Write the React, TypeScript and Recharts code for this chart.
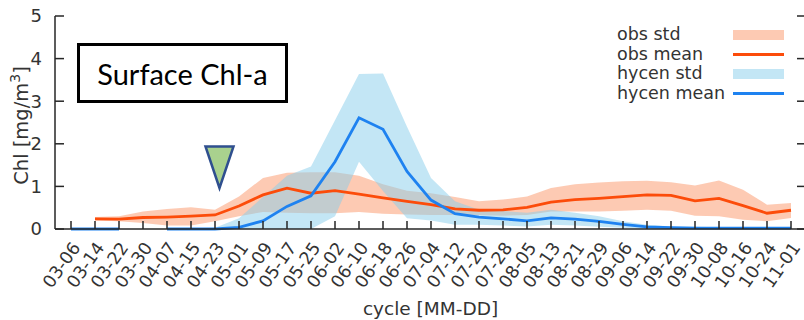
import React from "react";
import { ComposedChart, Area, Line, XAxis, YAxis, Legend } from "recharts";

// cycle dates (MM-DD)
const DATES = [
  "03-06", "03-14", "03-22", "03-30", "04-07", "04-15", "04-23", "05-01",
  "05-09", "05-17", "05-25", "06-02", "06-10", "06-18", "06-26", "07-04",
  "07-12", "07-20", "07-28", "08-05", "08-13", "08-21", "08-29", "09-06",
  "09-14", "09-22", "09-30", "10-08", "10-16", "10-24", "11-01",
];

// observations: mean and std envelope (low / high)
const OBS_MEAN = [
  null, 0.24, 0.23, 0.27, 0.28, 0.3, 0.33, 0.54, 0.8, 0.96, 0.84, 0.9, 0.82,
  0.73, 0.65, 0.57, 0.47, 0.44, 0.45, 0.51, 0.63, 0.69, 0.72, 0.76, 0.8, 0.79,
  0.66, 0.72, 0.55, 0.37, 0.44,
];
const OBS_LOW = [
  null, 0.2, 0.18, 0.14, 0.08, 0.08, 0.18, 0.3, 0.4, 0.38, 0.37, 0.37, 0.4,
  0.36, 0.34, 0.33, 0.33, 0.33, 0.31, 0.33, 0.41, 0.41, 0.41, 0.43, 0.45, 0.43,
  0.31, 0.3, 0.22, 0.18, 0.26,
];
const OBS_HIGH = [
  null, 0.28, 0.3, 0.41, 0.47, 0.51, 0.45, 0.76, 1.2, 1.32, 1.33, 1.33, 1.25,
  1.05, 0.9, 0.84, 0.75, 0.65, 0.69, 0.76, 0.96, 1.05, 1.09, 1.12, 1.13, 1.1,
  1.02, 1.14, 0.92, 0.57, 0.61,
];

// hycen model: mean and std envelope
const HYCEN_MEAN = [
  0, 0, 0, null, 0, 0, 0, 0.04, 0.19, 0.53, 0.78, 1.58, 2.61, 2.34, 1.35, 0.68,
  0.36, 0.28, 0.24, 0.19, 0.26, 0.23, 0.18, 0.11, 0.05, 0.03, 0.02, 0.02, 0.02,
  0.02, 0.02,
];
const HYCEN_LOW = [
  0, 0, 0, null, 0, 0, 0, 0, 0, 0, 0, 0.3, 1.58, 0.89, 0.25, 0.2, 0.1, 0.1,
  0.08, 0.06, 0.1, 0.08, 0.05, 0.03, 0, 0, 0, 0, 0, 0, 0,
];
const HYCEN_HIGH = [
  0.02, 0.02, 0.02, null, 0.02, 0.02, 0.03, 0.25, 0.75, 1.25, 1.47, 2.55, 3.64,
  3.65, 2.4, 1.2, 0.65, 0.45, 0.42, 0.38, 0.45, 0.38, 0.3, 0.18, 0.1, 0.06,
  0.05, 0.04, 0.04, 0.04, 0.04,
];

const Y_TICKS = [0, 1, 2, 3, 4, 5];
const LEGEND_ORDER = ["obs std", "obs mean", "hycen std", "hycen mean"];

const data = DATES.map((date, i) => ({
  date,
  obsMean: OBS_MEAN[i],
  obsStd: OBS_LOW[i] == null ? null : [OBS_LOW[i], OBS_HIGH[i]],
  hyMean: HYCEN_MEAN[i],
  hyStd: HYCEN_LOW[i] == null ? null : [HYCEN_LOW[i], HYCEN_HIGH[i]],
}));

const INK = "#262626";
const TXT = "#333";
const FONT = "'DejaVu Sans', sans-serif";

const STYLE: Record<string, { color: string; opacity: number }> = {
  obsStd: { color: "#fa7a40", opacity: 0.4 },
  obsMean: { color: "#fc4c0a", opacity: 1 },
  hyStd: { color: "#87ceeb", opacity: 0.5 },
  hyMean: { color: "#1e82f0", opacity: 1 },
};

function BottomTick({ x, y, payload }: any) {
  return (
    <g transform={`translate(${x},${y})`}>
      <line x1={0} y1={0} x2={0} y2={-8} stroke={INK} strokeWidth={1.5} />
      <text
        transform="translate(5,15) rotate(-55)"
        textAnchor="end"
        dy="0.35em"
        fontSize={17.5}
        fill={TXT}
        fontFamily={FONT}
      >
        {payload.value}
      </text>
    </g>
  );
}

function TopTick({ x, y }: any) {
  return <line x1={x} y1={y} x2={x} y2={y + 9} stroke={INK} strokeWidth={1.5} />;
}

function LeftTick({ x, y, payload }: any) {
  return (
    <g transform={`translate(${x},${y})`}>
      <line x1={0} y1={0} x2={9} y2={0} stroke={INK} strokeWidth={1.5} />
      <text x={-13} dy="0.35em" textAnchor="end" fontSize={18} fill={TXT} fontFamily={FONT}>
        {payload.value}
      </text>
    </g>
  );
}

function RightTick({ x, y }: any) {
  return <line x1={x} y1={y} x2={x - 9} y2={y} stroke={INK} strokeWidth={1.5} />;
}

function YLabel(props: any) {
  const vb = props.viewBox || { x: 0, y: 16, width: 55, height: 213 };
  const cx = vb.x + 28;
  const cy = vb.y + vb.height / 2 + 3;
  return (
    <text
      x={cx}
      y={cy}
      transform={`rotate(-90, ${cx}, ${cy})`}
      textAnchor="middle"
      fontSize={19.5}
      fill={TXT}
      fontFamily={FONT}
    >
      <tspan>Chl [mg/m</tspan>
      <tspan dy={-8} fontSize={14}>3</tspan>
      <tspan dy={8}>]</tspan>
    </text>
  );
}

function LegendBox({ payload }: any) {
  const items = (payload || [])
    .filter((p: any) => p.type !== "none")
    .slice()
    .sort((a: any, b: any) => LEGEND_ORDER.indexOf(a.value) - LEGEND_ORDER.indexOf(b.value));
  return (
    <div style={{ fontFamily: FONT, fontSize: 17.5, color: TXT }}>
      {items.map((p: any) => {
        const st = STYLE[p.dataKey] || { color: p.color, opacity: 1 };
        const band = p.type === "rect";
        return (
          <div key={p.value} style={{ display: "flex", alignItems: "center", height: 19.5 }}>
            <span style={{ width: 116, whiteSpace: "nowrap", lineHeight: "19.5px" }}>{p.value}</span>
            <span
              style={{
                display: "inline-block",
                width: 51,
                height: band ? 10 : 3,
                background: st.color,
                opacity: st.opacity,
              }}
            />
          </div>
        );
      })}
    </div>
  );
}

export default function App() {
  return (
    <div
      style={{
        position: "absolute",
        left: 0,
        top: 0,
        width: 804,
        height: 320,
        overflow: "hidden",
        background: "#fff",
      }}
    >
      <ComposedChart
        width={820}
        height={320}
        data={data}
        margin={{ top: 16, right: 0, bottom: 0, left: 0 }}
      >
        <XAxis
          dataKey="date"
          scale="point"
          padding={{ left: 16, right: 15 }}
          height={91}
          interval={0}
          tickSize={0}
          tickMargin={0}
          tickLine={false}
          tick={<BottomTick />}
          axisLine={{ stroke: INK, strokeWidth: 1.5 }}
          label={{
            value: "cycle [MM-DD]",
            position: "insideBottom",
            offset: 5,
            fill: TXT,
            fontSize: 18.5,
            fontFamily: FONT,
          }}
        />
        <XAxis
          xAxisId="top"
          dataKey="date"
          orientation="top"
          scale="point"
          padding={{ left: 16, right: 15 }}
          height={0}
          interval={0}
          tickSize={0}
          tickMargin={0}
          tickLine={false}
          tick={<TopTick />}
          axisLine={{ stroke: INK, strokeWidth: 1.5 }}
        />
        <YAxis
          domain={[0, 5]}
          ticks={Y_TICKS}
          width={55}
          tickSize={0}
          tickMargin={0}
          tickLine={false}
          tick={<LeftTick />}
          axisLine={{ stroke: INK, strokeWidth: 1.5 }}
          label={<YLabel />}
        />
        <YAxis
          yAxisId="right"
          orientation="right"
          domain={[0, 5]}
          ticks={Y_TICKS}
          width={14}
          tickSize={0}
          tickMargin={0}
          tickLine={false}
          tick={<RightTick />}
          axisLine={{ stroke: INK, strokeWidth: 1.5 }}
        />
        <Legend
          layout="vertical"
          align="center"
          verticalAlign="middle"
          wrapperStyle={{ top: 25, left: 617, width: 180 }}
          content={<LegendBox />}
        />
        <Area
          name="obs std"
          dataKey="obsStd"
          stroke="none"
          fill={STYLE.obsStd.color}
          fillOpacity={STYLE.obsStd.opacity}
          legendType="rect"
          isAnimationActive={false}
        />
        <Line
          name="obs mean"
          dataKey="obsMean"
          stroke={STYLE.obsMean.color}
          strokeWidth={2.8}
          dot={false}
          legendType="line"
          isAnimationActive={false}
        />
        <Area
          name="hycen std"
          dataKey="hyStd"
          stroke="none"
          fill={STYLE.hyStd.color}
          fillOpacity={STYLE.hyStd.opacity}
          legendType="rect"
          isAnimationActive={false}
        />
        <Line
          name="hycen mean"
          dataKey="hyMean"
          stroke={STYLE.hyMean.color}
          strokeWidth={2.8}
          dot={false}
          legendType="line"
          isAnimationActive={false}
        />
        <Line
          dataKey="obsMean"
          xAxisId="top"
          yAxisId="right"
          stroke="none"
          dot={false}
          legendType="none"
          isAnimationActive={false}
        />
      </ComposedChart>
      <div
        style={{
          position: "absolute",
          left: 77,
          top: 43,
          width: 211,
          height: 60,
          boxSizing: "border-box",
          border: "3px solid #000",
          background: "#fff",
          display: "flex",
          alignItems: "center",
          justifyContent: "center",
          fontFamily: "Lato, sans-serif",
          fontSize: 29,
          color: "#000",
        }}
      >
        Surface Chl-a
      </div>
      <svg
        width={804}
        height={320}
        style={{ position: "absolute", left: 0, top: 0, pointerEvents: "none" }}
      >
        <polygon
          points="205.5,146.5 233.5,146.5 219.5,188"
          fill="#a9d18e"
          stroke="#2f4f8f"
          strokeWidth={2.5}
        />
      </svg>
    </div>
  );
}
